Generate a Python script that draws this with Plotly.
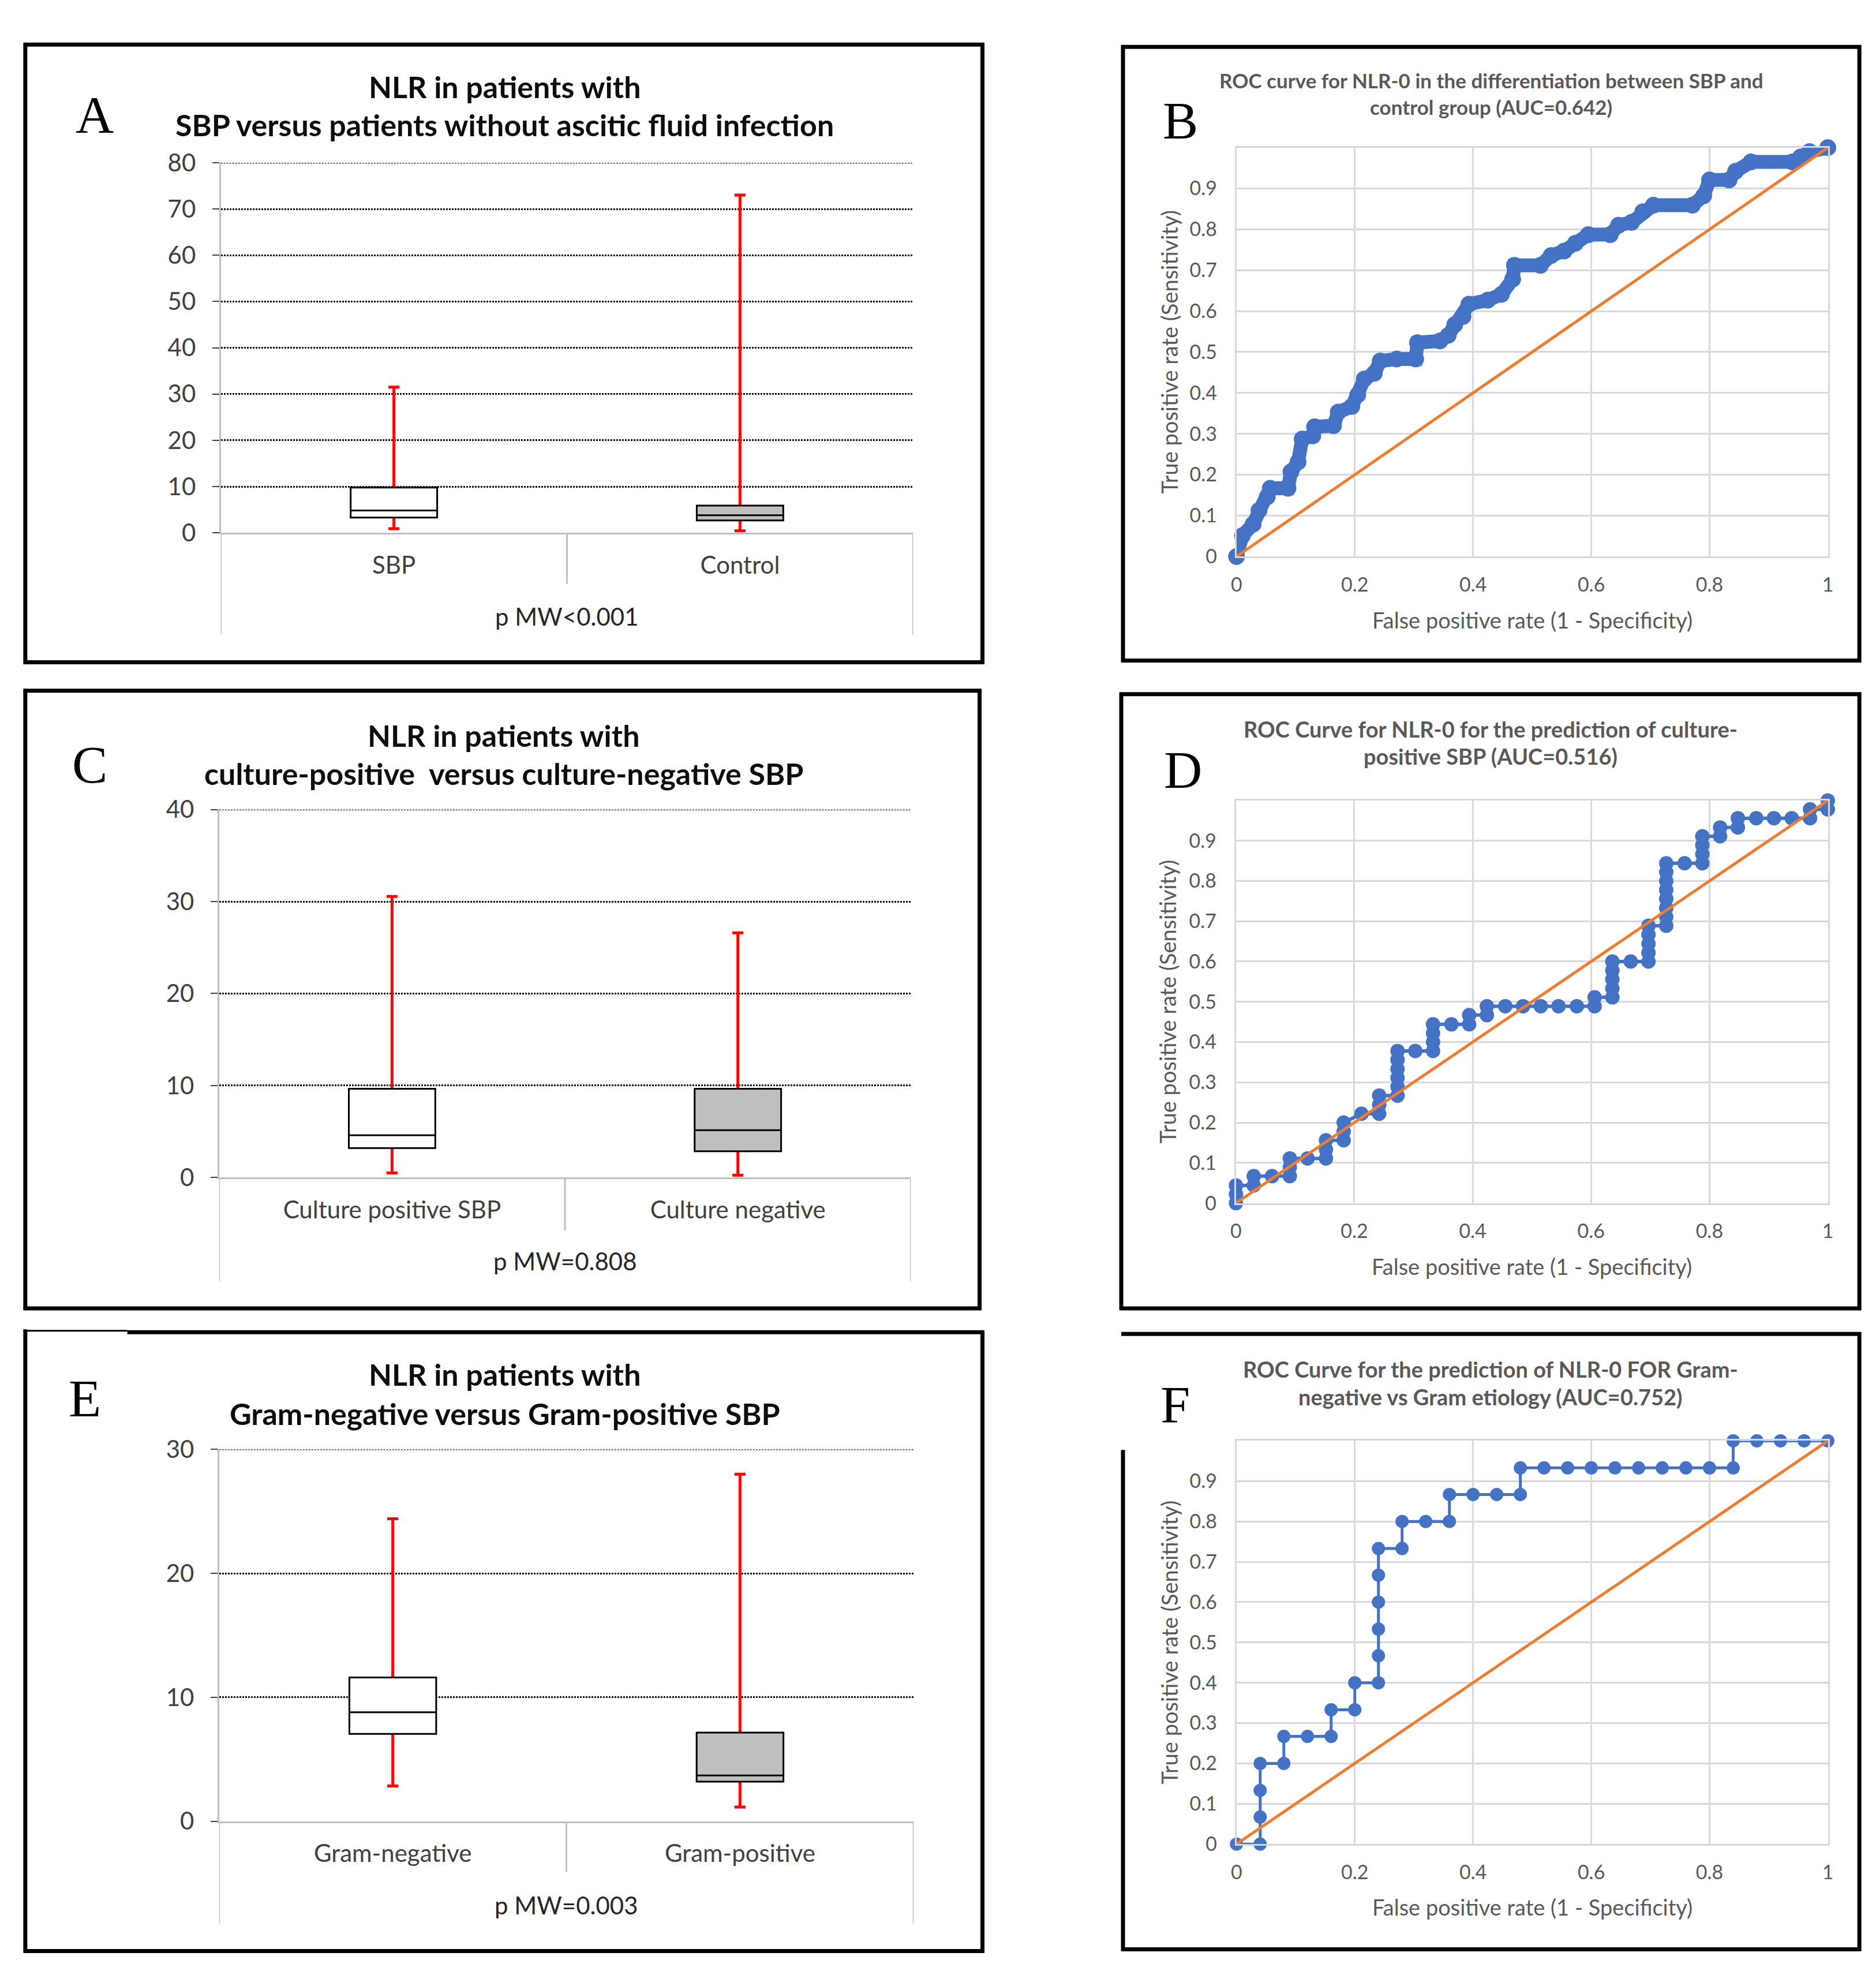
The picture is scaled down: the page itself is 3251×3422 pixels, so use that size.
import plotly.graph_objects as go

W, H = 3251, 3422


def fx(p):
    return p / W


def fy(p):
    return 1 - p / H


# ---------------- DATA ----------------
# Panel A
a_cats = ["SBP", "Control"]
a_min = [0.9, 0.45]
a_q1 = [3.3, 2.7]
a_med = [4.85, 3.8]
a_q3 = [9.8, 5.9]
a_max = [31.5, 73.0]

# Panel C
c_cats = ["Culture positive SBP", "Culture negative"]
c_min = [0.5, 0.25]
c_q1 = [3.2, 2.85]
c_med = [4.6, 5.15]
c_q3 = [9.65, 9.65]
c_max = [30.55, 26.6]

# Panel E
e_cats = ["Gram-negative", "Gram-positive"]
e_min = [2.85, 1.15]
e_q1 = [7.05, 3.2]
e_med = [8.8, 3.7]
e_q3 = [11.6, 7.15]
e_max = [24.4, 28.0]

# Panel B ROC
b_fpr = [0, 0.01, 0.028, 0.038, 0.052, 0.057, 0.087, 0.092, 0.104, 0.111, 0.129, 0.132,
         0.164, 0.172, 0.195, 0.205, 0.216, 0.233, 0.243, 0.271, 0.303, 0.306, 0.344,
         0.358, 0.369, 0.383, 0.393, 0.425, 0.448, 0.467, 0.47, 0.514, 0.532, 0.554,
         0.573, 0.595, 0.632, 0.646, 0.668, 0.687, 0.705, 0.771, 0.79, 0.8, 0.833,
         0.844, 0.87, 0.94, 0.954, 0.969, 1.0]
b_tpr = [0, 0.051, 0.079, 0.113, 0.146, 0.167, 0.167, 0.207, 0.231, 0.287, 0.295, 0.317,
         0.32, 0.353, 0.367, 0.395, 0.434, 0.448, 0.478, 0.483, 0.483, 0.523, 0.527,
         0.541, 0.567, 0.587, 0.617, 0.627, 0.641, 0.678, 0.712, 0.712, 0.736, 0.747,
         0.766, 0.787, 0.787, 0.81, 0.817, 0.843, 0.859, 0.859, 0.882, 0.921, 0.921,
         0.942, 0.965, 0.965, 0.977, 0.99, 1.0]

# Panel D ROC
d_fpr = [0, 0, 0, 0.03, 0.03, 0.061, 0.091, 0.091, 0.091, 0.121, 0.152, 0.152, 0.152,
         0.182, 0.182, 0.182, 0.212, 0.242, 0.242, 0.242,
         0.273, 0.273, 0.273, 0.273, 0.273, 0.273, 0.303, 0.333, 0.333, 0.333, 0.333,
         0.364, 0.394, 0.394, 0.424, 0.424, 0.455, 0.485, 0.515, 0.545, 0.576,
         0.606, 0.606, 0.636, 0.636, 0.636, 0.636, 0.636, 0.667,
         0.697, 0.697, 0.697, 0.697, 0.697,
         0.727, 0.727, 0.727, 0.727, 0.727, 0.727, 0.727, 0.727, 0.758,
         0.788, 0.788, 0.788, 0.788, 0.818, 0.818, 0.848, 0.848, 0.879, 0.909, 0.939,
         0.97, 0.97, 1.0, 1.0]
d_tpr = [0, 0.022, 0.044, 0.044, 0.067, 0.067, 0.067, 0.089, 0.111, 0.111, 0.111, 0.133, 0.156,
         0.156, 0.178, 0.2, 0.222, 0.222, 0.244, 0.267,
         0.267, 0.289, 0.311, 0.333, 0.356, 0.378, 0.378, 0.378, 0.4, 0.422, 0.444,
         0.444, 0.444, 0.467, 0.467, 0.489, 0.489, 0.489, 0.489, 0.489, 0.489,
         0.489, 0.511, 0.511, 0.533, 0.556, 0.578, 0.6, 0.6,
         0.6, 0.622, 0.644, 0.667, 0.689,
         0.689, 0.711, 0.733, 0.756, 0.778, 0.8, 0.822, 0.844, 0.844,
         0.844, 0.867, 0.889, 0.911, 0.911, 0.933, 0.933, 0.956, 0.956, 0.956, 0.956,
         0.956, 0.978, 0.978, 1.0]

# Panel F ROC
f_fpr = [0, 0.04, 0.04, 0.04, 0.04, 0.08, 0.08, 0.12, 0.16, 0.16, 0.2, 0.2, 0.24,
         0.24, 0.24, 0.24, 0.24, 0.24, 0.28, 0.28, 0.32, 0.36, 0.36, 0.4, 0.44, 0.48,
         0.48, 0.52, 0.56, 0.6, 0.64, 0.68, 0.72, 0.76, 0.8, 0.84, 0.84, 0.88, 0.92,
         0.96, 1.0]
f_tpr = [0, 0, 0.067, 0.133, 0.2, 0.2, 0.267, 0.267, 0.267, 0.333, 0.333, 0.4, 0.4,
         0.467, 0.533, 0.6, 0.667, 0.733, 0.733, 0.8, 0.8, 0.8, 0.867, 0.867, 0.867, 0.867,
         0.933, 0.933, 0.933, 0.933, 0.933, 0.933, 0.933, 0.933, 0.933, 0.933, 1.0, 1.0, 1.0,
         1.0, 1.0]

ref_line = [0, 1]

roc_xticks = [0, 0.2, 0.4, 0.6, 0.8, 1.0]
roc_xticktext = ["0", "0.2", "0.4", "0.6", "0.8", "1"]
roc_yticks = [0, 0.1, 0.2, 0.3, 0.4, 0.5, 0.6, 0.7, 0.8, 0.9]
roc_yticktext = ["0", "0.1", "0.2", "0.3", "0.4", "0.5", "0.6", "0.7", "0.8", "0.9"]

# ---------------- FIGURE ----------------
SANS = "Lato"
SERIF = "Liberation Serif"
fig = go.Figure()
shapes = []
annotations = []


def ann(text, x, y, size, color, bold=False, family=SANS, xanchor="center", textangle=0):
    annotations.append(dict(
        text=text, x=fx(x), y=fy(y), xref="paper", yref="paper", showarrow=False,
        xanchor=xanchor, yanchor="middle", textangle=textangle,
        font=dict(family=family, size=size, color=color, weight="bold" if bold else "normal"),
    ))


def border(x0, y0, x1, y1, width=7):
    shapes.append(dict(type="line", xref="paper", yref="paper",
                       x0=fx(x0), y0=fy(y0), x1=fx(x1), y1=fy(y1),
                       line=dict(color="black", width=width)))


GRID_DASH = "3px,2px"
GRID_COLOR = "#111111"
GRID_W = 2.5


def box_panel(idx, cats, mins, q1s, meds, q3s, maxs, ymax, dtick, geom, titles, pmw):
    xl, xr, yt, yb, ext, mid, pmw_y, title_y, cx = geom
    xa = "x" if idx == 1 else f"x{idx}"
    ya = "y" if idx == 1 else f"y{idx}"
    fills = ["white", "#bfbfbf"]
    for i in range(len(cats)):
        fig.add_trace(go.Box(
            x=[i], q1=[meds[i]], median=[meds[i]], q3=[meds[i]],
            lowerfence=[mins[i]], upperfence=[maxs[i]],
            width=0.2, whiskerwidth=0.16, line=dict(color="#ff0000", width=5),
            fillcolor="rgba(0,0,0,0)", xaxis=xa, yaxis=ya, showlegend=False, hoverinfo="skip"))
        fig.add_trace(go.Box(
            x=[i], q1=[q1s[i]], median=[meds[i]], q3=[q3s[i]],
            lowerfence=[q1s[i]], upperfence=[q3s[i]],
            width=0.25, whiskerwidth=0, line=dict(color="black", width=3),
            fillcolor=fills[i], xaxis=xa, yaxis=ya, showlegend=False, hoverinfo="skip"))
    xkey = "xaxis" if idx == 1 else f"xaxis{idx}"
    ykey = "yaxis" if idx == 1 else f"yaxis{idx}"
    fig.update_layout(**{
        xkey: dict(domain=[fx(xl), fx(xr)], anchor=ya, range=[-0.5, 1.5],
                   tickvals=list(range(len(cats))), ticktext=cats, showgrid=False,
                   zeroline=False, showline=True, linecolor="#bfbfbf", linewidth=3,
                   ticks="", ticklabelstandoff=17,
                   tickfont=dict(family=SANS, size=42, color="#404040")),
        ykey: dict(domain=[fy(yb), fy(yt)], anchor=xa, range=[0, ymax], dtick=dtick,
                   showgrid=True, gridcolor=GRID_COLOR, gridwidth=GRID_W, griddash=GRID_DASH,
                   zeroline=False, showline=True, linecolor="#bfbfbf", linewidth=3,
                   ticks="outside", ticklen=12, tickwidth=2, tickcolor="#404040",
                   ticklabelstandoff=20,
                   tickfont=dict(family=SANS, size=42, color="#404040")),
    })
    # top gridline (plotly skips gridlines at the very end of the range)
    shapes.append(dict(type="line", xref=xa, yref=ya, x0=-0.5, x1=1.5, y0=ymax, y1=ymax,
                       line=dict(color=GRID_COLOR, width=GRID_W, dash=GRID_DASH), layer="below"))
    # separators of multi-level category axis
    for xv, yend in [(-0.5, ext), (0.5, mid), (1.5, ext)]:
        shapes.append(dict(type="line", xref=xa, yref="paper", x0=xv, x1=xv,
                           y0=fy(yb), y1=fy(yend), line=dict(color="#bfbfbf", width=3)))
    ann(titles[0], cx, title_y[0], 52, "#0d0d0d", bold=True)
    ann(titles[1], cx, title_y[1], 52, "#0d0d0d", bold=True)
    ann(pmw, (xl + xr) / 2, pmw_y, 42, "#262626")


def roc_panel(idx, fpr, tpr, geom, titles, tsize, msize, lwidth):
    xl, xr, yt, yb, title_y, xt_y, yt_x, cx = geom
    xa = f"x{idx}"
    ya = f"y{idx}"
    fig.add_trace(go.Scatter(
        x=fpr, y=tpr, mode="lines+markers", xaxis=xa, yaxis=ya, cliponaxis=False,
        line=dict(color="#4472c4", width=lwidth), marker=dict(color="#4472c4", size=msize),
        showlegend=False, hoverinfo="skip"))
    fig.add_trace(go.Scatter(
        x=ref_line, y=ref_line, mode="lines", xaxis=xa, yaxis=ya, cliponaxis=False,
        line=dict(color="#ed7d31", width=5), showlegend=False, hoverinfo="skip"))
    fig.update_layout(**{
        f"xaxis{idx}": dict(domain=[fx(xl), fx(xr)], anchor=ya, range=[0, 1],
                            tickvals=roc_xticks, ticktext=roc_xticktext,
                            showgrid=True, gridcolor="#d9d9d9", gridwidth=3, zeroline=False,
                            showline=True, mirror=True, linecolor="#d9d9d9", linewidth=3,
                            ticks="", ticklabelstandoff=17,
                            tickfont=dict(family=SANS, size=34, color="#595959")),
        f"yaxis{idx}": dict(domain=[fy(yb), fy(yt)], anchor=xa, range=[0, 1],
                            tickvals=roc_yticks, ticktext=roc_yticktext,
                            showgrid=True, gridcolor="#d9d9d9", gridwidth=3, zeroline=False,
                            showline=True, mirror=True, linecolor="#d9d9d9", linewidth=3,
                            ticks="", ticklabelstandoff=24,
                            tickfont=dict(family=SANS, size=34, color="#595959")),
    })
    ann(titles[0], cx, title_y[0], tsize, "#595959", bold=True)
    ann(titles[1], cx, title_y[1], tsize, "#595959", bold=True)
    ann("False positive rate (1 - Specificity)", (xl + xr) / 2, xt_y, 38, "#595959")
    ann("True positive rate (Sensitivity)", yt_x, (yt + yb) / 2, 38, "#595959", textangle=-90)


# Box panels: (xl, xr, ytop, ybottom, ext, mid, pmw_y, (title1_y, title2_y), title_cx)
box_panel(1, a_cats, a_min, a_q1, a_med, a_q3, a_max, 80, 10,
          (367, 1574, 251.6, 902.5, 1082, 992, 1049, (118, 185), 862),
          ("NLR in patients with", "SBP versus patients without ascitic fluid infection"),
          "p MW&lt;0.001")
box_panel(3, c_cats, c_min, c_q1, c_med, c_q3, c_max, 40, 10,
          (364, 1570, 1389, 2036, 2219, 2129, 2183, (1258, 1325), 860),
          ("NLR in patients with", "culture-positive \u00a0versus culture-negative SBP"),
          "p MW=0.808")
box_panel(5, e_cats, e_min, e_q1, e_med, e_q3, e_max, 30, 10,
          (364, 1575, 2514, 3168, 3348, 3257, 3315, (2382, 2451), 862),
          ("NLR in patients with", "Gram-negative versus Gram-positive SBP"),
          "p MW=0.003")

# ROC panels: (xl, xr, ytop, ybottom, (title1_y, title2_y), xtitle_y, ytitle_x, title_cx)
roc_panel(2, b_fpr, b_tpr, (2138, 3169, 225, 944, (107, 153), 1055, 2020, 2582),
          ("ROC curve for NLR-0 in the differentiation between SBP and",
           "control group (AUC=0.642)"), 35, 29, 24)
roc_panel(4, d_fpr, d_tpr, (2137, 3169, 1373, 2081, (1247, 1295), 2192, 2017, 2581),
          ("ROC Curve for NLR-0 for the prediction of culture-",
           "positive SBP (AUC=0.516)"), 38, 25, 6)
roc_panel(6, f_fpr, f_tpr, (2138, 3169, 2499, 3208, (2373, 2421), 3318, 2020, 2581),
          ("ROC Curve for the prediction of NLR-0 FOR Gram-",
           "negative vs Gram etiology (AUC=0.752)"), 38, 23, 5)

# Panel letters
for letter, x, y in [("A", 147, 163), ("B", 2040, 174), ("C", 138, 1306),
                     ("D", 2045, 1315), ("E", 130, 2420), ("F", 2031, 2432)]:
    ann(letter, x, y + 4, 92, "black", family=SERIF)

# Panel borders
# A
border(23, 44, 1698, 44); border(23, 1130, 1698, 1130)
border(26, 41, 26, 1133); border(1695, 41, 1695, 1133)
# C
border(23, 1180, 1693, 1180); border(23, 2266, 1693, 2266)
border(26, 1177, 26, 2269); border(1690, 1177, 1690, 2269)
# E (thin segment at top-left)
border(23, 2305.5, 204, 2305.5, width=3); border(204, 2308, 1698, 2308)
border(23, 3396, 1698, 3396)
border(26, 2303, 26, 3399); border(1695, 2305, 1695, 3399)
# B
border(1937, 48, 3227, 48); border(1937, 1127, 3227, 1127)
border(1940, 45, 1940, 1130); border(3224, 45, 3224, 1130)
# D
border(1934, 1186, 3227, 1186); border(1934, 2266, 3227, 2266)
border(1937, 1183, 1937, 2269); border(3224, 1183, 3224, 2269)
# F (left border starts lower)
border(1937, 2311, 3227, 2311); border(1937, 3393, 3227, 3393)
border(1940, 2515, 1940, 3396); border(3224, 2308, 3224, 3396)

fig.update_layout(
    width=W, height=H, margin=dict(l=0, r=0, t=0, b=0),
    paper_bgcolor="white", plot_bgcolor="white",
    showlegend=False, boxmode="overlay",
    shapes=shapes, annotations=annotations,
    font=dict(family=SANS),
)

fig.write_html("out.html")
